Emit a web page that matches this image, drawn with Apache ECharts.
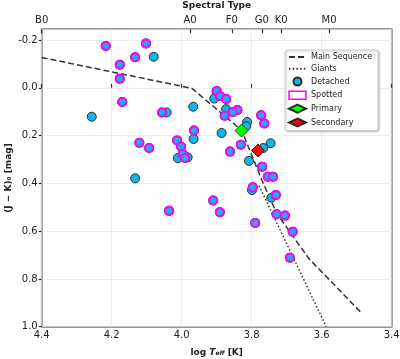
<!DOCTYPE html>
<html>
<head>
<meta charset="utf-8">
<script src="https://cdn.jsdelivr.net/npm/echarts@6/dist/echarts.min.js"></script>
<style>
  html, body { margin: 0; padding: 0; background: #fff; }
  #chart { width: 400px; height: 359px; }
</style>
</head>
<body>
<div id="chart"></div>
<script>
// colour-temperature diagram data
const detachedLogT = [4.080, 4.257, 4.043, 4.011, 3.983, 3.966, 3.967, 4.133, 3.907, 3.873,
    3.813, 3.816, 3.886, 3.746, 3.767, 3.808, 3.799, 3.744];
const detachedJK = [-0.130, 0.121, 0.103, 0.294, 0.291, 0.214, 0.079, 0.379, 0.045, 0.089,
    0.143, 0.161, 0.189, 0.232, 0.252, 0.306, 0.428, 0.460];

const spottedLogT = [4.217, 4.102, 4.133, 4.177, 4.177, 4.170, 4.056, 4.121, 4.093, 4.013,
    4.002, 3.997, 3.990, 3.965, 4.036, 3.900, 3.891, 3.873, 3.841, 3.854,
    3.877, 3.773, 3.764, 3.831, 3.862, 3.770, 3.754, 3.739, 3.797, 3.910,
    3.731, 3.891, 3.790, 3.729, 3.705, 3.683, 3.691];
const spottedJK = [-0.175, -0.186, -0.128, -0.097, -0.038, 0.059, 0.103, 0.230, 0.252, 0.220,
    0.246, 0.277, 0.294, 0.179, 0.515, 0.013, 0.034, 0.047, 0.093, 0.101,
    0.117, 0.115, 0.149, 0.238, 0.267, 0.330, 0.372, 0.372, 0.416, 0.472,
    0.449, 0.521, 0.566, 0.529, 0.535, 0.602, 0.711];

const primaryLogT = [3.829];
const primaryJK = [0.179];
const secondaryLogT = [3.782];
const secondaryJK = [0.262];

const msLogT = [4.4, 3.971, 3.829, 3.771, 3.729, 3.681, 3.636, 3.484];
const msJK = [-0.127, 0.002, 0.177, 0.386, 0.524, 0.624, 0.716, 0.946];
const giantsLogT = [3.779, 3.587];
const giantsJK = [0.41, 1.0];

const spTypes = ['B0', 'A0', 'F0', 'G0', 'K0', 'M0'];
const spLogT = [4.4, 3.976, 3.857, 3.771, 3.716, 3.579];

const zip = (a, b) => a.map((v, i) => [v, b[i]]);

const FONT = 'DejaVu Sans';
const CYAN = '#12b5ea';
const EDGE = '#2b2b2b';
const NOSYM = { color: 'rgba(0,0,0,0)', borderColor: 'rgba(0,0,0,0)', borderWidth: 0 };

const chart = echarts.init(document.getElementById('chart'), null, { renderer: 'canvas' });

const option = {
    animation: false,
    textStyle: { fontFamily: FONT },
    grid: {
        left: 41.7, right: 8.3, top: 29.3, bottom: 32.3,
        outerBoundsMode: 'none', containLabel: false,
        show: true, borderColor: '#333', borderWidth: 1.5
    },
    legend: {
        orient: 'vertical',
        left: 285, top: 50,
        itemWidth: 17, itemHeight: 8, itemGap: 3.8,
        symbolKeepAspect: true,
        padding: [3, 6, 3, 3],
        backgroundColor: '#fff',
        borderColor: '#cfcfcf', borderWidth: 1, borderRadius: 2,
        shadowColor: 'rgba(0,0,0,0.25)', shadowBlur: 2, shadowOffsetX: 1, shadowOffsetY: 1,
        textStyle: { fontFamily: FONT, fontSize: 8, color: '#222' },
        data: [
            { name: 'Main Sequence', itemStyle: NOSYM },
            { name: 'Giants', itemStyle: NOSYM },
            { name: 'Detached', icon: 'circle' },
            { name: 'Spotted', icon: 'rect', itemStyle: { color: '#fff', borderColor: '#ff00ff', borderWidth: 1.5 } },
            { name: 'Primary', icon: 'diamond' },
            { name: 'Secondary', icon: 'diamond' }
        ]
    },
    xAxis: [
        {
            type: 'value', min: 3.4, max: 4.4, interval: 0.2, inverse: true,
            name: '{b|log }{i|T}{s|eff}{b| [K]}',
            nameLocation: 'middle', nameGap: 21, nameMoveOverlap: false,
            nameTextStyle: {
                rich: {
                    b: { fontFamily: FONT, fontWeight: 'bold', fontSize: 9, color: '#222' },
                    i: { fontFamily: FONT, fontWeight: 'bold', fontStyle: 'italic', fontSize: 9, color: '#222' },
                    s: { fontFamily: FONT, fontWeight: 'bold', fontStyle: 'italic', fontSize: 6, color: '#222',
                        verticalAlign: 'bottom', lineHeight: 6, padding: [4, 0, 0, 0] }
                }
            },
            axisLine: { show: false },
            axisTick: { show: true, inside: true, length: 4, lineStyle: { color: '#333', width: 1.2 } },
            axisLabel: { margin: 4, fontSize: 10, color: '#222', formatter: v => v.toFixed(1) },
            splitLine: { show: true, lineStyle: { color: '#e8e8e8', width: 0.8 } }
        },
        {
            type: 'value', min: 3.4, max: 4.4, inverse: true, position: 'top',
            name: 'Spectral Type', nameLocation: 'middle', nameGap: 19, nameMoveOverlap: false,
            nameTextStyle: { fontFamily: FONT, fontWeight: 'bold', fontSize: 9, color: '#222' },
            axisLine: { show: false },
            axisTick: { show: true, inside: true, length: 4, customValues: spLogT,
                lineStyle: { color: '#333', width: 1.2 } },
            axisLabel: {
                margin: 4, fontSize: 10, color: '#222', customValues: spLogT,
                formatter: v => {
                    let best = 0;
                    spLogT.forEach((t, i) => { if (Math.abs(t - v) < Math.abs(spLogT[best] - v)) best = i; });
                    return spTypes[best];
                }
            },
            splitLine: { show: false }
        }
    ],
    yAxis: {
        type: 'value', min: -0.245, max: 1.0, splitNumber: 6, inverse: true,
        name: '(J \u2212 K)\u2080 [mag]',
        nameLocation: 'middle', nameGap: 29, nameMoveOverlap: false,
        nameTextStyle: { fontFamily: FONT, fontWeight: 'bold', fontSize: 9, color: '#222' },
        axisLine: { show: false },
        axisTick: { show: true, inside: false, length: 3, lineStyle: { color: '#333', width: 1.2 } },
        axisLabel: {
            margin: 4, fontSize: 10, color: '#222', showMinLabel: false,
            formatter: v => (Math.abs(v / 0.2 - Math.round(v / 0.2)) < 1e-6 ? v.toFixed(1) : '')
        },
        splitLine: { show: true, lineStyle: { color: '#e8e8e8', width: 0.8 } }
    },
    series: [
        {
            name: 'Main Sequence', type: 'line', data: zip(msLogT, msJK),
            symbol: 'none', z: 2,
            lineStyle: { color: '#333', width: 1.5, type: [6, 3] },
            itemStyle: { color: '#333' }
        },
        {
            name: 'Giants', type: 'line', data: zip(giantsLogT, giantsJK),
            symbol: 'none', z: 2,
            lineStyle: { color: '#333', width: 1.5, type: [1.5, 2.2] },
            itemStyle: { color: '#333' }
        },
        {
            name: 'Detached', type: 'scatter', data: zip(detachedLogT, detachedJK),
            symbol: 'circle', symbolSize: 9, z: 3,
            itemStyle: { color: CYAN, borderColor: EDGE, borderWidth: 1, opacity: 1 }
        },
        {
            name: 'spottedEdge', type: 'scatter', data: zip(spottedLogT, spottedJK),
            symbol: 'circle', symbolSize: 10, z: 4, silent: true,
            itemStyle: { color: EDGE, opacity: 1 }
        },
        {
            name: 'Spotted', type: 'scatter', data: zip(spottedLogT, spottedJK),
            symbol: 'circle', symbolSize: 8, z: 5,
            itemStyle: { color: CYAN, borderColor: '#ff00ff', borderWidth: 2, opacity: 1 }
        },
        {
            name: 'Primary', type: 'scatter', data: zip(primaryLogT, primaryJK),
            symbol: 'diamond', symbolSize: 13, z: 6,
            itemStyle: { color: '#00ff00', borderColor: EDGE, borderWidth: 1, opacity: 1 }
        },
        {
            name: 'Secondary', type: 'scatter', data: zip(secondaryLogT, secondaryJK),
            symbol: 'diamond', symbolSize: 13, z: 6,
            itemStyle: { color: '#ff0000', borderColor: EDGE, borderWidth: 1, opacity: 1 }
        }
    ]
};
chart.setOption(option);
</script>
</body>
</html>
